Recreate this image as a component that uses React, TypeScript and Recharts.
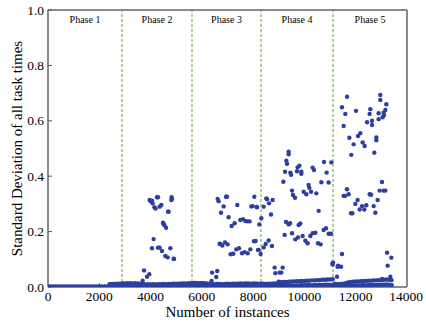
import { ScatterChart, Scatter, XAxis, YAxis, ReferenceLine, ReferenceArea } from "recharts";

const SERIF = "'Liberation Serif', 'Times New Roman', serif";
const DOT = "#2c3f9f";
const FRAME = "#8a8a8a";
const PHASE_LINE = "#5aa534";

const xTicks = [0, 2000, 4000, 6000, 8000, 10000, 12000, 14000];
const yTicks = [0, 0.2, 0.4, 0.6, 0.8, 1.0];

const phaseNames = ["Phase 1", "Phase 2", "Phase 3", "Phase 4", "Phase 5"];
const phaseEdges = [0, 2886, 5616, 8307, 11115, 14000];

// points lying on the axis before the band starts
const zeroRowX = [
  0, 100, 200, 300, 400, 500, 600, 700, 800, 900, 1000, 1100, 1200, 1300, 1400, 1500,
  1600, 1700, 1800, 1900, 2000, 2100, 2200, 2300,
];

// dense band of small values near zero
const bandX = [
  2400, 2500, 2600, 2700, 2800,
  2900, 3000, 3100, 3200, 3300, 3400, 3500, 3600, 3700,
  3800, 3900, 4000, 4100, 4200, 4300, 4400, 4500, 4600, 4700, 4800, 4900,
  5000, 5100, 5200, 5300, 5400, 5500, 5600,
  5700, 5800, 5900, 6000, 6100, 6200, 6300,
  6400, 6500, 6600, 6700, 6800, 6900, 7000, 7100, 7200,
  7300, 7400, 7500, 7600, 7700, 7800, 7900, 8000, 8100, 8200,
  8300, 8400, 8500, 8600, 8700, 8800, 8900,
  9000, 9100, 9200, 9300, 9400, 9500, 9600, 9700, 9800, 9900, 10000,
  10100, 10200, 10300, 10400, 10500, 10600, 10700, 10800, 10900, 11000, 11100,
  11200, 11300, 11400, 11500, 11600, 11700,
  11800, 11900, 12000, 12100, 12200, 12300, 12400, 12500, 12600, 12700, 12800,
  12900, 13000, 13100, 13200, 13300, 13400,
];
const bandLowY = [
  0.004, 0.005, 0.004, 0.005, 0.005,
  0.005, 0.006, 0.005, 0.006, 0.005, 0.005, 0.006, 0.005, 0.004,
  0.003, 0.004, 0.003, 0.004, 0.003, 0.004, 0.004, 0.003, 0.004, 0.004, 0.003, 0.004,
  0.004, 0.005, 0.004, 0.005, 0.005, 0.006, 0.005,
  0.006, 0.006, 0.005, 0.006, 0.005, 0.005, 0.004,
  0.004, 0.004, 0.005, 0.004, 0.004, 0.005, 0.005, 0.004, 0.005,
  0.005, 0.004, 0.005, 0.005, 0.004, 0.005, 0.005, 0.004, 0.005, 0.005,
  0.004, 0.004, 0.004, 0.005, 0.004, 0.005, 0.005,
  0.005, 0.005, 0.006, 0.005, 0.006, 0.006, 0.005, 0.006, 0.006, 0.007, 0.006,
  0.007, 0.007, 0.006, 0.007, 0.007, 0.008, 0.007, 0.008, 0.008, 0.007, 0.008,
  0.004, 0.003, 0.004, 0.004, 0.005, 0.005,
  0.005, 0.005, 0.006, 0.006, 0.006, 0.007, 0.006, 0.007, 0.007, 0.008, 0.007,
  0.008, 0.008, 0.008, 0.009, 0.008, 0.007,
];
const bandHighY = [
  0.010, 0.011, 0.011, 0.012, 0.012,
  0.013, 0.013, 0.014, 0.014, 0.013, 0.014, 0.013, 0.012, 0.012,
  0.009, 0.010, 0.009, 0.010, 0.009, 0.010, 0.010, 0.011, 0.010, 0.011, 0.011, 0.012,
  0.012, 0.012, 0.013, 0.013, 0.013, 0.014, 0.014,
  0.015, 0.015, 0.014, 0.015, 0.014, 0.013, 0.012,
  0.010, 0.010, 0.011, 0.011, 0.010, 0.011, 0.012, 0.011, 0.012,
  0.012, 0.012, 0.013, 0.012, 0.013, 0.013, 0.012, 0.013, 0.013, 0.012,
  0.012, 0.012, 0.011, 0.012, 0.012, 0.013, 0.013,
  0.016, 0.017, 0.018, 0.018, 0.019, 0.020, 0.020, 0.021, 0.021, 0.022, 0.022,
  0.023, 0.023, 0.024, 0.024, 0.025, 0.025, 0.026, 0.026, 0.027, 0.027, 0.028,
  0.012, 0.010, 0.011, 0.012, 0.014, 0.016,
  0.018, 0.019, 0.020, 0.020, 0.021, 0.022, 0.022, 0.023, 0.023, 0.024, 0.024,
  0.025, 0.025, 0.026, 0.027, 0.026, 0.025,
];

const phase2Points: [number, number][] = [
  [3690, 0.023], [3744, 0.060], [3861, 0.037], [3951, 0.046],
  [3963, 0.314], [4000, 0.310], [4056, 0.312], [4080, 0.302], [4250, 0.324], [4290, 0.324],
  [4419, 0.296], [4197, 0.283], [4150, 0.288], [4353, 0.290], [4821, 0.324], [4809, 0.314],
  [4840, 0.318], [4704, 0.272], [4680, 0.272], [4485, 0.232], [4500, 0.228], [4536, 0.224],
  [4602, 0.214], [4119, 0.173], [4056, 0.140], [4290, 0.142], [4353, 0.142], [4446, 0.130],
  [4770, 0.140], [4575, 0.112], [4665, 0.107], [4899, 0.102], [4915, 0.101],
];

const phase3Points: [number, number][] = [
  [6380, 0.022], [6400, 0.052], [6560, 0.036], [6600, 0.058],
  [6615, 0.318], [6654, 0.310], [6942, 0.326], [6980, 0.326], [6849, 0.291], [6747, 0.268],
  [7383, 0.296], [7044, 0.252], [7278, 0.230], [7161, 0.220], [7500, 0.242], [7605, 0.245],
  [7695, 0.238], [7785, 0.237], [7863, 0.237], [8046, 0.326], [7929, 0.291], [7980, 0.292],
  [8136, 0.289], [8151, 0.288], [8241, 0.226],
  [6693, 0.156], [6720, 0.155], [6798, 0.150], [6903, 0.161], [7005, 0.154], [7122, 0.118],
  [7227, 0.120], [7344, 0.136], [7449, 0.140], [7566, 0.122], [7668, 0.126], [7785, 0.122],
  [7890, 0.136], [8034, 0.165], [8097, 0.166], [8214, 0.134], [8292, 0.119], [8190, 0.134],
];

const phase4Points: [number, number][] = [
  [8319, 0.248], [8410, 0.290], [8514, 0.320], [8540, 0.317], [8619, 0.302], [8760, 0.314],
  [8697, 0.262], [8409, 0.143], [8487, 0.155], [8604, 0.168], [8735, 0.148],
  [8838, 0.070], [8865, 0.050], [9033, 0.052], [9150, 0.070], [9099, 0.052], [8995, 0.019],
  [9384, 0.488], [9384, 0.479], [9294, 0.456], [9321, 0.445], [9243, 0.416], [9450, 0.413],
  [9477, 0.405], [9735, 0.432], [9801, 0.438], [9711, 0.418], [9879, 0.416], [9879, 0.409],
  [10320, 0.431], [10374, 0.422], [10764, 0.451], [11049, 0.450], [10866, 0.413],
  [9177, 0.380], [9516, 0.348], [9555, 0.332], [9633, 0.322], [9969, 0.344], [10074, 0.335],
  [10164, 0.368], [10191, 0.358], [10257, 0.344], [10464, 0.338], [10659, 0.378],
  [10944, 0.377], [10554, 0.275],
  [9282, 0.235], [9384, 0.226], [9438, 0.230], [9774, 0.224], [9840, 0.229], [9228, 0.188],
  [9516, 0.194], [9645, 0.172], [9750, 0.179], [9930, 0.184], [10035, 0.167], [10125, 0.158],
  [10230, 0.184], [10320, 0.194], [10425, 0.196], [10530, 0.158], [10632, 0.154],
  [10749, 0.206], [10842, 0.212], [10944, 0.192], [11037, 0.192],
  [11100, 0.086], [11100, 0.081],
];

const phase5Points: [number, number][] = [
  [11661, 0.687], [11466, 0.649], [11595, 0.625], [11529, 0.581], [12012, 0.636],
  [11751, 0.539], [11919, 0.515], [11829, 0.477], [12090, 0.545], [12180, 0.555],
  [12270, 0.522], [12348, 0.509], [12441, 0.595], [12543, 0.625], [12570, 0.642],
  [12636, 0.600], [12636, 0.585], [12804, 0.540], [12804, 0.530], [12726, 0.485],
  [12894, 0.606], [12960, 0.693], [12960, 0.675], [12894, 0.627], [13050, 0.613],
  [13089, 0.629], [13155, 0.639], [13194, 0.660], [13100, 0.620],
  [11529, 0.329], [11595, 0.329], [11661, 0.353], [11724, 0.335], [11985, 0.300],
  [12075, 0.314], [11817, 0.266], [11870, 0.266], [12153, 0.280], [12246, 0.292],
  [12336, 0.280], [12414, 0.295], [12543, 0.335], [12600, 0.333], [12700, 0.292],
  [12765, 0.268], [12855, 0.314], [12933, 0.348], [13025, 0.379], [13089, 0.348],
  [13155, 0.348],
  [11466, 0.119], [11310, 0.077], [11427, 0.073], [11271, 0.037], [11295, 0.073],
  [11115, 0.088], [13222, 0.124], [13389, 0.106], [13245, 0.077], [13350, 0.037],
  [13025, 0.029],
];

const points = [
  ...zeroRowX.map((x) => ({ x, y: 0.002 })),
  ...bandX.map((x, i) => ({ x, y: bandLowY[i] })),
  ...bandX.map((x, i) => ({ x, y: bandHighY[i] })),
  ...[...phase2Points, ...phase3Points, ...phase4Points, ...phase5Points].map(([x, y]) => ({ x, y })),
];

const frameLine = { stroke: FRAME, strokeWidth: 2 };
const tickLine = { stroke: "#555", strokeWidth: 1 };

const Dot = (p: any) => <circle cx={p.cx} cy={p.cy} r={2.2} fill={DOT} />;

const XTick = (p: any) => (
  <text x={p.x} y={p.y} dy="0.75em" textAnchor="middle" fontSize={13.5} fontFamily={SERIF} fill="#000">
    {p.payload.value}
  </text>
);

const YTick = (p: any) => (
  <text x={p.x} y={p.y} dy="0.34em" textAnchor="end" fontSize={13.5} fontFamily={SERIF} fill="#000">
    {Number(p.payload.value).toFixed(1)}
  </text>
);

export default function App() {
  return (
    <div style={{ position: "absolute", left: 0, top: 0, background: "#fff", fontFamily: SERIF }}>
      <ScatterChart width={426} height={322} margin={{ top: 9, right: 18, bottom: 0, left: 0 }}>
        <XAxis
          xAxisId="b"
          type="number"
          dataKey="x"
          domain={[0, 14000]}
          ticks={xTicks}
          allowDataOverflow
          height={35}
          tickSize={-4}
          tickMargin={8}
          axisLine={frameLine}
          tickLine={tickLine}
          tick={XTick}
          label={{ value: "Number of instances", position: "insideBottom", offset: 5, fontSize: 15, fill: "#000", fontFamily: SERIF }}
        />
        <XAxis
          xAxisId="t"
          type="number"
          orientation="top"
          domain={[0, 14000]}
          ticks={xTicks}
          allowDataOverflow
          height={1}
          tickSize={-4}
          axisLine={frameLine}
          tickLine={tickLine}
          tick={false}
        />
        <YAxis
          yAxisId="l"
          type="number"
          dataKey="y"
          domain={[0, 1]}
          ticks={yTicks}
          allowDataOverflow
          width={48}
          tickSize={-4}
          tickMargin={8}
          axisLine={frameLine}
          tickLine={tickLine}
          tick={YTick}
          label={{
            value: "Standard Deviation of all task times",
            angle: -90,
            position: "insideLeft",
            offset: 17,
            fontSize: 15,
            fill: "#000",
            fontFamily: SERIF,
            style: { textAnchor: "middle" },
          }}
        />
        <YAxis
          yAxisId="r"
          type="number"
          orientation="right"
          domain={[0, 1]}
          ticks={yTicks}
          allowDataOverflow
          width={1}
          tickSize={-4}
          axisLine={frameLine}
          tickLine={tickLine}
          tick={false}
        />
        {phaseNames.map((name, i) => (
          <ReferenceArea
            key={name}
            xAxisId="b"
            yAxisId="l"
            x1={phaseEdges[i]}
            x2={phaseEdges[i + 1]}
            y1={0}
            y2={1}
            fill="none"
            fillOpacity={0}
            stroke="none"
            label={{ value: name, position: "insideTop", offset: 6, fontSize: 10, fill: "#000", fontFamily: SERIF }}
          />
        ))}
        {phaseEdges.slice(1, -1).map((x) => (
          <ReferenceLine key={x} xAxisId="b" yAxisId="l" x={x} stroke={PHASE_LINE} strokeDasharray="3 2" />
        ))}
        <Scatter xAxisId="b" yAxisId="l" data={points} fill={DOT} shape={Dot} isAnimationActive={false} />
      </ScatterChart>
    </div>
  );
}
